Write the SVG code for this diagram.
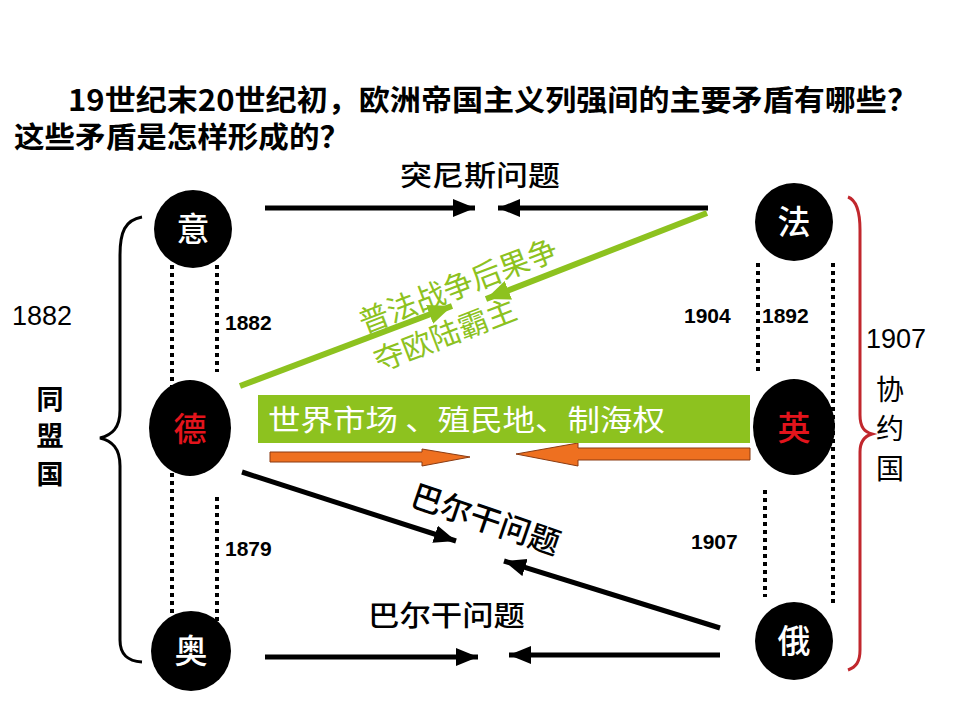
<svg xmlns="http://www.w3.org/2000/svg" width="960" height="720" viewBox="0 0 960 720">
<defs>
<style>
.cjk{font-family:"Noto Sans CJK SC","Liberation Sans",sans-serif}
.title{font-size:29px;font-weight:700;fill:#000}
.lbl{font-size:28px;font-weight:500;fill:#000}
.yr{font-family:"Liberation Sans",Arial,sans-serif;font-size:21px;font-weight:700;fill:#000}
.yrb{font-family:"Liberation Sans",Arial,sans-serif;font-size:27px;fill:#000}
.node{fill:#000}
.nt{font-size:33px;font-weight:500;fill:#fff;text-anchor:middle}
.nr{fill:#e3141c}
.dot{stroke:#000;stroke-width:4;stroke-dasharray:4 4;fill:none}
.blk{stroke:#000;stroke-width:5;fill:none}
.grn{stroke:#8dc21f;stroke-width:6;fill:none}
.orn{fill:#ee7020;stroke:#8a3b12;stroke-width:1}
.gt{font-size:30px;fill:#8dc21f}
</style>
<marker id="ab" markerUnits="userSpaceOnUse" markerWidth="24" markerHeight="20" refX="22" refY="9" orient="auto">
<path d="M0,0 L22,9 L0,18 Z" fill="#000"/>
</marker>
<marker id="ag" markerUnits="userSpaceOnUse" markerWidth="26" markerHeight="22" refX="24" refY="10" orient="auto">
<path d="M0,0 L24,10 L0,20 Z" fill="#8dc21f"/>
</marker>
</defs>
<rect width="960" height="720" fill="#fff"/>

<g id="title" class="cjk">
<text class="title" x="68" y="111" textLength="850" lengthAdjust="spacingAndGlyphs">19世纪末20世纪初，欧洲帝国主义列强间的主要矛盾有哪些？</text>
<text class="title" x="14" y="148" textLength="336" lengthAdjust="spacingAndGlyphs">这些矛盾是怎样形成的？</text>
</g>

<g id="dotted">
<line class="dot" x1="172" y1="265" x2="172" y2="634"/>
<line class="dot" x1="217" y1="265" x2="217" y2="372"/>
<line class="dot" x1="217" y1="497" x2="217" y2="634"/>
<line class="dot" x1="758" y1="263" x2="758" y2="371"/>
<line class="dot" x1="833" y1="263" x2="833" y2="603"/>
<line class="dot" x1="765" y1="490" x2="765" y2="597"/>
</g>

<g id="connectors">
<line class="blk" x1="265" y1="208" x2="475" y2="208" marker-end="url(#ab)"/>
<line class="blk" x1="708" y1="208" x2="498" y2="208" marker-end="url(#ab)"/>
<line class="grn" x1="240" y1="386" x2="452" y2="306" marker-end="url(#ag)"/>
<line class="grn" x1="707" y1="213" x2="486" y2="299" marker-end="url(#ag)"/>
<polygon class="orn" points="270,452 422,452 422,449 470,457 422,466 422,462 270,462"/>
<polygon class="orn" points="750,448 578,448 578,443 516,454 578,466 578,460 750,460"/>
<line class="blk" x1="242" y1="472" x2="456" y2="541" marker-end="url(#ab)"/>
<line class="blk" x1="720" y1="628" x2="504" y2="561" marker-end="url(#ab)"/>
<line class="blk" x1="265" y1="657" x2="478" y2="657" marker-end="url(#ab)"/>
<line class="blk" x1="720" y1="655" x2="509" y2="655" marker-end="url(#ab)"/>
</g>

<g id="braces" fill="none">
<path d="M142,217 C125,220 120,232 120,255 L120,410 C120,428 112,435 100,438 C112,441 120,448 120,466 L120,640 C120,655 128,661 142,662" stroke="#000" stroke-width="3"/>
<path d="M848,197 C856,200 860,210 860,230 L860,415 C860,428 865,432 872,434 C865,436 860,442 860,452 L860,650 C860,662 856,667 848,670" stroke="#c1272d" stroke-width="3"/>
</g>

<g id="labels" class="cjk">
<text class="lbl" x="400" y="186" textLength="160" lengthAdjust="spacingAndGlyphs">突尼斯问题</text>
<text class="lbl" x="368" y="626" textLength="157" lengthAdjust="spacingAndGlyphs">巴尔干问题</text>
<text class="lbl" style="font-size:31px" transform="translate(482,530) rotate(19)" text-anchor="middle">巴尔干问题</text>
<text class="gt" transform="translate(462,296) rotate(-21)" text-anchor="middle">普法战争后果争</text>
<text class="gt" transform="translate(449,345) rotate(-21)" text-anchor="middle">夺欧陆霸主</text>
<text style="font-size:27px;font-weight:700" x="50" y="409" text-anchor="middle">同</text>
<text style="font-size:27px;font-weight:700" x="50" y="446" text-anchor="middle">盟</text>
<text style="font-size:27px;font-weight:700" x="50" y="484" text-anchor="middle">国</text>
<text style="font-size:28px" x="890" y="400" text-anchor="middle">协</text>
<text style="font-size:28px" x="890" y="439" text-anchor="middle">约</text>
<text style="font-size:28px" x="890" y="479" text-anchor="middle">国</text>
</g>

<g id="years">
<text class="yrb" x="12" y="325">1882</text>
<text class="yrb" x="866" y="348">1907</text>
<text class="yr" x="225" y="330">1882</text>
<text class="yr" x="225" y="556">1879</text>
<text class="yr" x="684" y="323">1904</text>
<text class="yr" x="762" y="323">1892</text>
<text class="yr" x="691" y="549">1907</text>
</g>

<g id="box">
<rect x="258" y="395" width="492" height="48" fill="#8dc21f"/>
<text class="cjk" x="268" y="431" style="font-size:29px;fill:#fff" textLength="397" lengthAdjust="spacingAndGlyphs">世界市场 、殖民地、制海权</text>
</g>

<g id="node-yi"><circle class="node" cx="193" cy="229" r="39"/><text class="cjk nt" x="193" y="241">意</text></g>
<g id="node-de"><ellipse class="node" cx="190" cy="428" rx="41" ry="48"/><text class="cjk nt nr" x="190" y="441">德</text></g>
<g id="node-ao"><ellipse class="node" cx="191" cy="651" rx="40" ry="40"/><text class="cjk nt" x="191" y="663">奥</text></g>
<g id="node-fa"><circle class="node" cx="794" cy="222" r="39"/><text class="cjk nt" x="794" y="234">法</text></g>
<g id="node-ying"><ellipse class="node" cx="794" cy="427" rx="41" ry="48"/><text class="cjk nt nr" x="794" y="440">英</text></g>
<g id="node-e"><circle class="node" cx="794" cy="641" r="39"/><text class="cjk nt" x="794" y="653">俄</text></g>
</svg>
